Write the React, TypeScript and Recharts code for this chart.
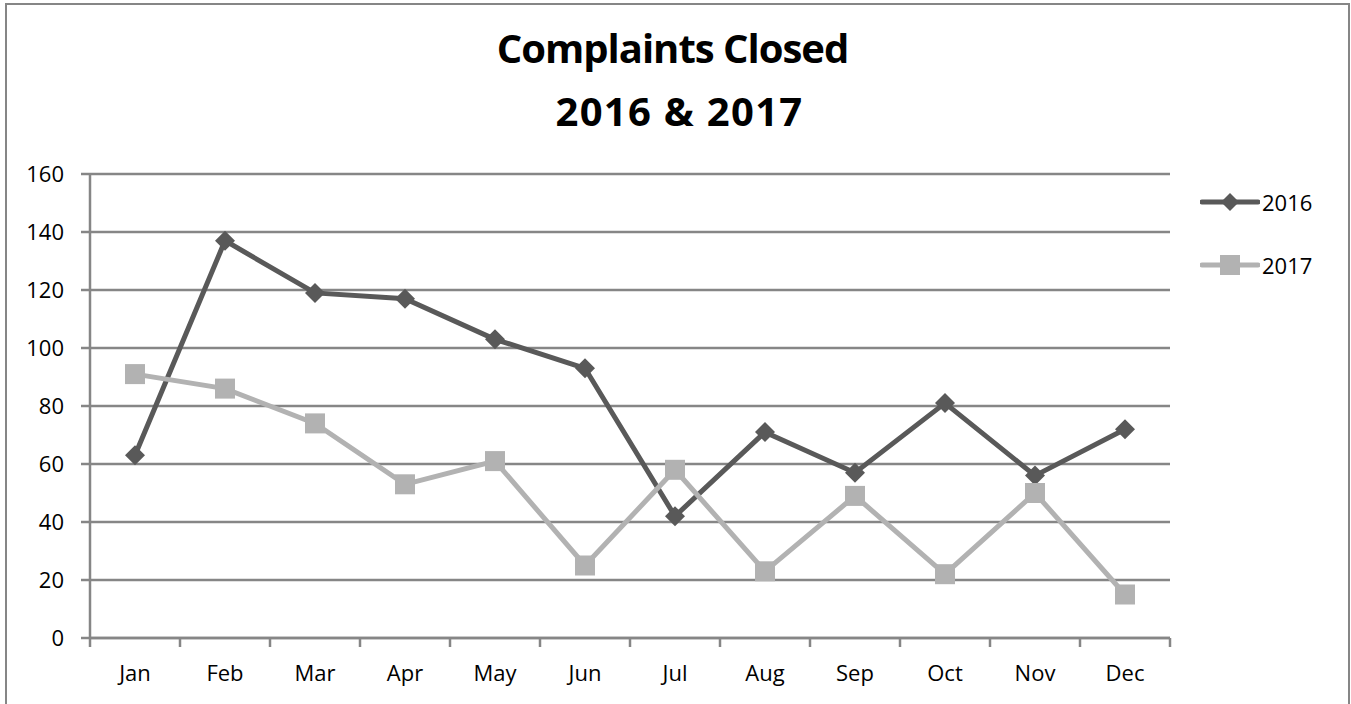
import React from "react"
import { CartesianGrid, Legend, Line, LineChart, XAxis, YAxis } from "recharts"

const months = ["Jan", "Feb", "Mar", "Apr", "May", "Jun", "Jul", "Aug", "Sep", "Oct", "Nov", "Dec"]
const closed2016 = [63, 137, 119, 117, 103, 93, 42, 71, 57, 81, 56, 72]
const closed2017 = [91, 86, 74, 53, 61, 25, 58, 23, 49, 22, 50, 15]
const yTicks = [0, 20, 40, 60, 80, 100, 120, 140, 160]
// category boundaries, half a step either side of each month index
const boundaryTicks = [-0.5, 0.5, 1.5, 2.5, 3.5, 4.5, 5.5, 6.5, 7.5, 8.5, 9.5, 10.5, 11.5]

const data = months.map((month, i) => ({
  idx: i,
  month,
  y2016: closed2016[i],
  y2017: closed2017[i],
}))

const DARK = "#595959"
const LIGHT = "#b2b2b2"
const GRID = "#868686"
const FONT = "'Open Sans', sans-serif"

const Diamond = (props: any) => {
  const { cx, cy, index } = props
  if (cx == null || cy == null) return null
  const r = 10
  return (
    <path
      key={`d-${index}`}
      d={`M${cx},${cy - r}L${cx + r},${cy}L${cx},${cy + r}L${cx - r},${cy}Z`}
      fill={DARK}
    />
  )
}

const Square = (props: any) => {
  const { cx, cy, index } = props
  if (cx == null || cy == null) return null
  const s = 10
  return <rect key={`s-${index}`} x={cx - s} y={cy - s} width={s * 2} height={s * 2} fill={LIGHT} />
}

const renderLegend = (props: any) => {
  const items = props.payload || []
  return (
    <div style={{ fontFamily: FONT, fontSize: 22, color: "#000" }}>
      {items.map((item: any, i: number) => {
        const dark = item.dataKey === "y2016"
        return (
          <div key={i} style={{ display: "flex", alignItems: "center", height: 63 }}>
            <svg width={60} height={24} style={{ marginRight: 2 }}>
              <line x1={2} y1={12} x2={58} y2={12} stroke={item.color} strokeWidth={5} strokeLinecap="round" />
              {dark ? (
                <path d="M30,3L39,12L30,21L21,12Z" fill={item.color} />
              ) : (
                <rect x={20} y={2} width={20} height={20} fill={item.color} />
              )}
            </svg>
            <span>{item.value}</span>
          </div>
        )
      })}
    </div>
  )
}

export default function App() {
  return (
    <div
      style={{
        position: "absolute",
        left: 0,
        top: 0,
        width: 1351,
        height: 704,
        overflow: "hidden",
        background: "#fff",
      }}
    >
      <div
        style={{
          position: "absolute",
          left: 5,
          top: 3,
          width: 1341,
          height: 740,
          border: `2px solid ${GRID}`,
        }}
      />
      <div
        style={{
          position: "absolute",
          left: 2,
          top: 16,
          width: 1341,
          textAlign: "center",
          fontFamily: FONT,
          fontWeight: 700,
          fontSize: 40,
          lineHeight: "63px",
          color: "#000",
        }}
      >
        <div style={{ letterSpacing: -1 }}>Complaints Closed</div>
        <div style={{ letterSpacing: 1.3, paddingLeft: 14 }}>2016 &amp; 2017</div>
      </div>
      <LineChart
        width={1351}
        height={704}
        data={data}
        margin={{ top: 174, right: 181, bottom: 0, left: 30 }}
        style={{ position: "absolute", left: 0, top: 0 }}
      >
        <CartesianGrid xAxisId="cat" vertical={false} stroke={GRID} strokeWidth={2.5} />
        <XAxis
          xAxisId="bound"
          dataKey="idx"
          type="number"
          domain={["dataMin", "dataMax"]}
          padding={{ left: 45, right: 45 }}
          ticks={boundaryTicks}
          height={1}
          interval={0}
          tickFormatter={() => ""}
          tickSize={9}
          stroke={GRID}
          axisLine={{ stroke: GRID, strokeWidth: 2.5 }}
          tickLine={{ stroke: GRID, strokeWidth: 2.5 }}
        />
        <XAxis
          xAxisId="cat"
          dataKey="month"
          height={65}
          padding={{ left: 45, right: 45 }}
          axisLine={false}
          tickLine={false}
          tickSize={0}
          tickMargin={26}
          interval={0}
          tick={{ fill: "#000", fontSize: 22, fontFamily: FONT }}
        />
        <YAxis
          domain={[0, 160]}
          ticks={yTicks}
          width={60}
          interval={0}
          tickSize={9}
          tickMargin={17}
          axisLine={{ stroke: GRID, strokeWidth: 2.5 }}
          tickLine={{ stroke: GRID, strokeWidth: 2.5 }}
          tick={{ fill: "#000", fontSize: 22, fontFamily: FONT }}
        />
        <Legend
          layout="vertical"
          align="center"
          verticalAlign="middle"
          content={renderLegend}
          wrapperStyle={{ left: 1200, top: 170, width: 150 }}
        />
        <Line
          xAxisId="cat"
          type="linear"
          dataKey="y2016"
          name="2016"
          stroke={DARK}
          strokeWidth={5}
          dot={Diamond}
          activeDot={false}
          isAnimationActive={false}
        />
        <Line
          xAxisId="cat"
          type="linear"
          dataKey="y2017"
          name="2017"
          stroke={LIGHT}
          strokeWidth={5}
          dot={Square}
          activeDot={false}
          isAnimationActive={false}
        />
      </LineChart>
    </div>
  )
}
